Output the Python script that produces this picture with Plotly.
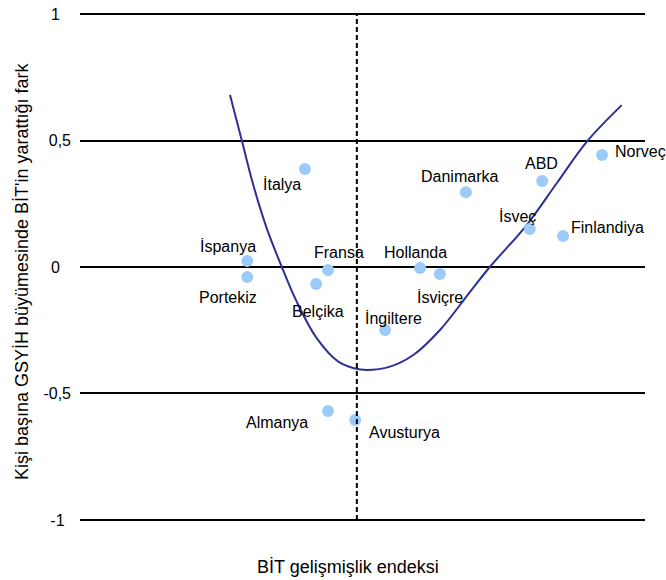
import plotly.graph_objects as go

# Country observations (x: ICT development index on 0-100 scale, y: difference in GDP per capita growth)
countries = ["İtalya", "İspanya", "Portekiz", "Fransa", "Belçika", "Hollanda", "İsviçre",
             "İngiltere", "Danimarka", "ABD", "İsveç", "Finlandiya", "Norveç", "Almanya", "Avusturya"]
ict_index = [39.8, 29.6, 29.6, 43.9, 41.8, 60.2, 63.7, 54.0, 68.3, 81.8, 79.6, 85.5, 92.4, 43.9, 48.7]
growth_diff = [0.387, 0.024, -0.040, -0.012, -0.067, -0.004, -0.028, -0.249, 0.296, 0.340,
               0.150, 0.123, 0.443, -0.569, -0.605]

# Fitted curve
curve_x = [26.55, 28.62, 30.67, 33.04, 35.70, 38.35, 41.89, 45.72, 48.5, 50.74, 54.87, 58.99,
           63.72, 69.03, 72.57, 79.06, 84.37, 89.68, 95.88]
curve_y = [0.680, 0.502, 0.324, 0.154, 0.001, -0.137, -0.281, -0.374, -0.400, -0.407, -0.394,
           -0.348, -0.249, -0.098, 0.001, 0.166, 0.331, 0.495, 0.640]

threshold_x = 49.0

y_ticks = [-1, -0.5, 0, 0.5, 1]
y_tick_labels = ["-1", "-0,5", "0", "0,5", "1"]

# label offsets (style only)
label_style = {
    "İtalya": (-23, -15, "center"),
    "İspanya": (-19, 15, "center"),
    "Portekiz": (-19, -20, "center"),
    "Fransa": (11, 18, "center"),
    "Belçika": (2, -28, "center"),
    "Hollanda": (-5, 16, "center"),
    "İsviçre": (0, -23, "center"),
    "İngiltere": (8, 12, "center"),
    "Danimarka": (-6, 16, "center"),
    "ABD": (-1, 18, "center"),
    "İsveç": (-12, 13, "center"),
    "Finlandiya": (6, 8, "left"),
    "Norveç": (11, 3, "left"),
    "Almanya": (-51, -12, "center"),
    "Avusturya": (12, -12, "left"),
}

# tick-label padding so labels sit roughly centred like the original
tick_pad = {"-1": "\u2009\u2009", "-0,5": "", "0": "\u2002\u2009", "0,5": "", "1": "\u2002\u2009"}
tick_text = [t + tick_pad[t] for t in y_tick_labels]

FONT = "Liberation Sans, Arial, Helvetica, sans-serif"

fig = go.Figure()
fig.add_trace(go.Scatter(x=curve_x, y=curve_y, mode="lines",
                         line=dict(color="#2E3192", width=2, shape="spline"),
                         hoverinfo="skip", showlegend=False))
fig.add_trace(go.Scatter(x=ict_index, y=growth_diff, mode="markers",
                         marker=dict(color="#9CCBFA", size=12, line=dict(width=0)),
                         text=countries, showlegend=False))

fig.add_shape(type="line", x0=threshold_x, x1=threshold_x, y0=-1, y1=1,
              xref="x", yref="y", line=dict(color="black", width=2, dash="5px,3px"))

for name, xv, yv in zip(countries, ict_index, growth_diff):
    dx, dy, anchor = label_style[name]
    fig.add_annotation(x=xv, y=yv, text=name, showarrow=False, xanchor=anchor,
                       xshift=dx, yshift=dy, font=dict(size=16, color="black", family=FONT))

fig.add_annotation(text="BİT gelişmişlik endeksi", xref="paper", yref="paper",
                   x=0.474, y=-0.0813, showarrow=False, xanchor="center",
                   yanchor="middle", font=dict(size=18, color="black", family=FONT))
fig.add_annotation(text="Kişi başına GSYİH büyümesinde BİT'in yarattığı fark",
                   xref="paper", yref="paper", x=-0.1027, y=0.492, textangle=-90,
                   showarrow=False, xanchor="center", yanchor="middle",
                   font=dict(size=18, color="black", family=FONT))

fig.update_layout(
    width=666, height=580,
    margin=dict(l=80, r=21, t=9, b=55, autoexpand=False),
    paper_bgcolor="white", plot_bgcolor="white",
    font=dict(family=FONT, color="black", size=14),
    xaxis=dict(range=[0, 100], showgrid=False, zeroline=False, showticklabels=False,
               ticks="", showline=False, automargin=False),
    yaxis=dict(range=[-1.02, 1.02], tickvals=y_ticks, ticktext=tick_text,
               showgrid=True, gridcolor="black", gridwidth=2,
               zeroline=True, zerolinecolor="black", zerolinewidth=2,
               showline=False, ticks="", ticklabelstandoff=8, automargin=False,
               tickfont=dict(size=16, family=FONT)),
)

fig.write_html("out.html", config={"displayModeBar": False},
               post_script="document.body.style.margin='0px';document.body.style.overflow='hidden';")
